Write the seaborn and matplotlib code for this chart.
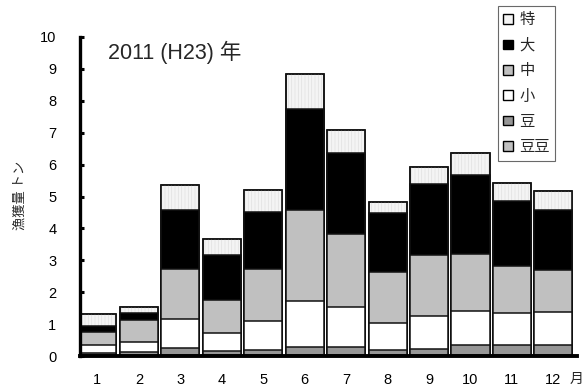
import matplotlib
matplotlib.use("Agg")
import matplotlib.pyplot as plt
import numpy as np
import pandas as pd
import seaborn as sns
from matplotlib.patches import Patch

# Monthly catch (tonnes) by size class, 2011
months = [str(m) for m in range(1, 13)]
toku = [0.37, 0.19, 0.78, 0.50, 0.70, 1.08, 0.71, 0.35, 0.54, 0.69, 0.55, 0.59]      # 特
dai = [0.19, 0.23, 1.85, 1.40, 1.78, 3.17, 2.55, 1.85, 2.23, 2.46, 2.04, 1.88]       # 大
chu = [0.41, 0.68, 1.58, 1.03, 1.62, 2.86, 2.29, 1.60, 1.91, 1.78, 1.48, 1.33]       # 中
sho = [0.26, 0.32, 0.91, 0.57, 0.92, 1.43, 1.24, 0.85, 1.04, 1.08, 1.00, 1.03]       # 小
mame = [0.05, 0.10, 0.21, 0.13, 0.16, 0.26, 0.26, 0.16, 0.18, 0.31, 0.31, 0.31]      # 豆
mamemame = [0.03, 0.03, 0.03, 0.03, 0.03, 0.03, 0.03, 0.03, 0.03, 0.03, 0.03, 0.03]  # 豆豆

legend_labels = ["特", "大", "中", "小", "豆", "豆豆"]
yticks = list(range(0, 11))

sns.set_theme(style="white")
plt.rcParams["font.family"] = ["Liberation Sans", "Noto Sans CJK JP", "DejaVu Sans"]
plt.rcParams["hatch.linewidth"] = 0.5

df = pd.DataFrame({
    "month": months,
    "豆豆": mamemame, "豆": mame, "小": sho, "中": chu, "大": dai, "特": toku,
})
stack_order = ["豆豆", "豆", "小", "中", "大", "特"]
cum = df[stack_order].cumsum(axis=1)

colors = {
    "特": "#f4f4f4",
    "大": "#000000",
    "中": "#c0c0c0",
    "小": "#ffffff",
    "豆": "#969696",
    "豆豆": "#c0c0c0",
}

fig = plt.figure(figsize=(5.87, 3.89), dpi=100)
ax = fig.add_axes([80 / 587, 1 - 356 / 389, 497 / 587, 319 / 389])

bar_w = 0.92
# stacked bars: draw cumulative totals from the top layer down
for name in reversed(stack_order):
    plot_df = pd.DataFrame({"month": months, "value": cum[name].values})
    sns.barplot(data=plot_df, x="month", y="value", order=months,
                color=colors[name], saturation=1, width=bar_w,
                edgecolor="#111111", linewidth=1.1, ax=ax, zorder=2)
    if name == "特":
        # fine vertical texture on the top layer
        sns.barplot(data=plot_df, x="month", y="value", order=months,
                    facecolor="none", width=bar_w, edgecolor="#e0e0e0",
                    hatch="|||||", linewidth=0, ax=ax, zorder=2)
        sns.barplot(data=plot_df, x="month", y="value", order=months,
                    facecolor="none", width=bar_w, edgecolor="#111111",
                    linewidth=1.1, ax=ax, zorder=2)

ax.set_xlim(-0.42, 11.57)
ax.set_ylim(0, 10)
ax.set_yticks(yticks)
ax.set_yticklabels([str(t) for t in yticks], fontsize=10.5)
ax.set_xticks(range(len(months)))
ax.set_xticklabels(months, fontsize=10.5)
ax.tick_params(axis="x", length=0, pad=12, colors="black")
ax.tick_params(axis="y", direction="in", length=3, width=2.2, pad=17, colors="black", left=True)
ax.set_xlabel("")
ax.set_ylabel("漁獲量 トン", fontsize=9.5,
              family=["Noto Sans CJK JP", "DejaVu Sans"])
ax.yaxis.set_label_coords(-0.108, 0.505)

for side in ["top", "right"]:
    ax.spines[side].set_visible(False)
ax.spines["left"].set_linewidth(2.4)
ax.spines["bottom"].set_linewidth(2.8)
ax.spines["left"].set_color("black")
ax.spines["bottom"].set_color("black")

ax.text(0.056, 0.952, "2011 (H23) 年", transform=ax.transAxes, fontsize=15.5,
        va="center", ha="left")
ax.text(11.38, -0.072, "月", transform=ax.get_xaxis_transform(), fontsize=10,
        va="center", ha="left", family=["Noto Sans CJK JP", "DejaVu Sans"])

handles = [Patch(facecolor=colors[lab], edgecolor="black", linewidth=1.0, label=lab)
           for lab in legend_labels]
leg = fig.legend(handles=handles, loc="upper left", bbox_to_anchor=(498 / 587, 1 - 6 / 389),
                 handlelength=0.6, handleheight=0.6, handletextpad=0.45,
                 labelspacing=0.55, borderpad=0.35, borderaxespad=0, frameon=True,
                 fancybox=False, prop={"family": ["Noto Sans CJK JP", "DejaVu Sans"], "size": 11})
leg.get_frame().set_edgecolor("#444444")
leg.get_frame().set_linewidth(0.8)

fig.savefig("out.png", dpi=100)
